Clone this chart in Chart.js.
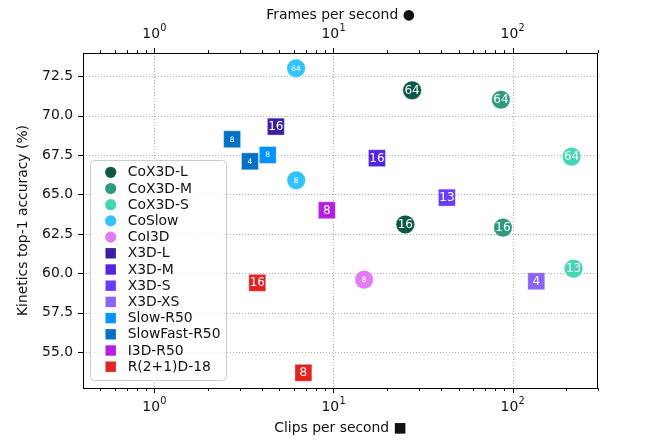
<!DOCTYPE html>
<html>
<head>
<meta charset="utf-8">
<script src="https://cdn.jsdelivr.net/npm/chart.js@4.4.1/dist/chart.umd.min.js"></script>
<style>
  html, body { margin: 0; padding: 0; background: #fff; }
  #wrap { width: 664px; height: 443px; }
</style>
</head>
<body>
<div id="wrap"><canvas id="c" width="664" height="443"></canvas></div>
<script>
// ---------- data ----------
const models = ['CoX3D-L', 'CoX3D-M', 'CoX3D-S', 'CoSlow', 'CoI3D', 'X3D-L', 'X3D-M', 'X3D-S', 'X3D-XS', 'Slow-R50', 'SlowFast-R50', 'I3D-R50', 'R(2+1)D-18'];
// frames per second (continual models, circles) or clips per second (clip models, squares)
const speed = [
  [27.5, 25.2],
  [86.1, 88.4],
  [213.6, 219],
  [6.19, 6.2],
  [14.85],
  [4.77],
  [17.5],
  [43.0],
  [135.7],
  [4.30],
  [2.72, 3.42],
  [9.19],
  [3.76, 6.80]
];
const accuracy = [
  [71.6, 63.1],
  [71.0, 62.9],
  [67.4, 60.3],
  [73.0, 65.9],
  [59.6],
  [69.3],
  [67.3],
  [64.8],
  [59.5],
  [67.5],
  [68.5, 67.1],
  [64.0],
  [59.4, 53.7]
];
const clipLabels = [
  ['64', '16'],
  ['64', '16'],
  ['64', '13'],
  ['64', '8'],
  ['8'],
  ['16'],
  ['16'],
  ['13'],
  ['4'],
  ['8'],
  ['8', '4'],
  ['8'],
  ['16', '8']
];
const xTickValues = [0.5, 0.6, 0.7, 0.8, 0.9, 1, 2, 3, 4, 5, 6, 7, 8, 9, 10, 20, 30, 40, 50, 60, 70, 80, 90, 100, 200, 300];
const xMajorExponents = { 1: '0', 10: '1', 100: '2' };
const yTickValues = [55.0, 57.5, 60.0, 62.5, 65.0, 67.5, 70.0, 72.5];
const xLimits = [0.4, 300];
const yLimits = [52.735, 73.965];

// ---------- styles ----------
const colors = ['#0b5946', '#2f9a80', '#45d6b5', '#33c3ff', '#e27cf3', '#3d1fa3', '#5424e0', '#6a3cfb', '#8a63f8', '#0594ff', '#0571c4', '#b51ee0', '#e32222'];
const isCircle = [true, true, true, true, true, false, false, false, false, false, false, false, false];
const smallText = [false, false, false, true, true, false, false, false, false, true, true, false, false];
const FONT = "'DejaVu Sans', sans-serif";
const TEXT = '#111';

const datasets = models.map((m, i) => ({
  label: m,
  xAxisID: 'x',
  yAxisID: 'y',
  data: speed[i].map((v, j) => ({ x: v, y: accuracy[i][j] })),
  backgroundColor: colors[i],
  borderColor: 'rgba(255,255,255,0.45)',
  borderWidth: 0.8,
  pointStyle: isCircle[i] ? 'circle' : 'rect',
  pointRadius: isCircle[i] ? 9.3 : 12,
  pointHoverRadius: isCircle[i] ? 9.3 : 12
}));

function setTicks(values) {
  return function (scale) {
    scale.ticks = values.map(v => ({ value: v, major: xMajorExponents[v] !== undefined }));
  };
}

const gridPlugin = {
  id: 'dottedGrid',
  beforeDatasetsDraw(chart) {
    const ctx = chart.ctx;
    const a = chart.chartArea;
    ctx.save();
    ctx.beginPath();
    ctx.rect(a.left, a.top, a.right - a.left, a.bottom - a.top);
    ctx.clip();
    ctx.strokeStyle = '#b0b0b0';
    ctx.lineWidth = 1;
    ctx.setLineDash([1, 2]);
    const xs = chart.scales.x, ys = chart.scales.y;
    Object.keys(xMajorExponents).forEach(k => {
      const px = Math.round(xs.getPixelForValue(Number(k))) + 0.5;
      ctx.beginPath(); ctx.moveTo(px, a.top); ctx.lineTo(px, a.bottom); ctx.stroke();
    });
    yTickValues.forEach(v => {
      const py = Math.round(ys.getPixelForValue(v)) + 0.5;
      ctx.beginPath(); ctx.moveTo(a.left, py); ctx.lineTo(a.right, py); ctx.stroke();
    });
    ctx.restore();
  }
};

function drawPowerLabel(ctx, x, digitCenterY, exp) {
  const base = '10';
  ctx.font = '13.9px ' + FONT;
  const wb = ctx.measureText(base).width;
  ctx.font = '9.7px ' + FONT;
  const we = ctx.measureText(exp).width;
  const x0 = x - (wb + we) / 2;
  ctx.textAlign = 'left';
  ctx.textBaseline = 'alphabetic';
  ctx.font = '13.9px ' + FONT;
  ctx.fillText(base, x0, digitCenterY + 5.07);
  ctx.font = '9.7px ' + FONT;
  ctx.fillText(exp, x0 + wb + 0.3, digitCenterY - 2.16);
}

const framePlugin = {
  id: 'frameTicks',
  afterDatasetsDraw(chart) {
    const ctx = chart.ctx;
    const a = chart.chartArea;
    ctx.save();
    ctx.strokeStyle = '#000';
    ctx.lineWidth = 1;
    const xs = chart.scales.x;
    xTickValues.forEach(v => {
      const px = Math.round(xs.getPixelForValue(v)) + 0.5;
      const len = xMajorExponents[v] !== undefined ? 5 : 2.8;
      ctx.beginPath();
      ctx.moveTo(px, a.bottom); ctx.lineTo(px, a.bottom + len);
      ctx.moveTo(px, a.top); ctx.lineTo(px, a.top - len);
      ctx.stroke();
    });
    const ys = chart.scales.y;
    yTickValues.forEach(v => {
      const py = Math.round(ys.getPixelForValue(v)) + 0.5;
      ctx.beginPath();
      ctx.moveTo(a.left, py); ctx.lineTo(a.left - 5, py);
      ctx.stroke();
    });
    ctx.strokeRect(Math.round(a.left) + 0.5, Math.round(a.top) + 0.5, Math.round(a.right - a.left) - 1, Math.round(a.bottom - a.top));
    // power-of-ten tick labels (bottom and top)
    ctx.fillStyle = TEXT;
    Object.keys(xMajorExponents).forEach(k => {
      const px = xs.getPixelForValue(Number(k));
      drawPowerLabel(ctx, px, a.bottom + 18, xMajorExponents[k]);
      drawPowerLabel(ctx, px, a.top - 20, xMajorExponents[k]);
    });
    ctx.restore();

    // labels inside markers
    ctx.save();
    ctx.fillStyle = '#fff';
    ctx.textAlign = 'center';
    ctx.textBaseline = 'middle';
    chart.data.datasets.forEach((ds, i) => {
      const meta = chart.getDatasetMeta(i);
      ctx.font = (smallText[i] ? '7.5px ' : '12px ') + FONT;
      meta.data.forEach((pt, j) => {
        ctx.fillText(clipLabels[i][j], pt.x, pt.y + 0.5);
      });
    });
    ctx.restore();

    // legend
    const lx = 90.5, ly = 160.5, lw = 136, lh = 220, r = 4;
    ctx.save();
    ctx.fillStyle = 'rgba(255,255,255,0.8)';
    ctx.strokeStyle = '#cccccc';
    ctx.lineWidth = 1;
    ctx.beginPath();
    ctx.moveTo(lx + r, ly);
    ctx.lineTo(lx + lw - r, ly); ctx.arcTo(lx + lw, ly, lx + lw, ly + r, r);
    ctx.lineTo(lx + lw, ly + lh - r); ctx.arcTo(lx + lw, ly + lh, lx + lw - r, ly + lh, r);
    ctx.lineTo(lx + r, ly + lh); ctx.arcTo(lx, ly + lh, lx, ly + lh - r, r);
    ctx.lineTo(lx, ly + r); ctx.arcTo(lx, ly, lx + r, ly, r);
    ctx.closePath();
    ctx.fill(); ctx.stroke();
    ctx.font = '13.9px ' + FONT;
    ctx.textAlign = 'left';
    ctx.textBaseline = 'middle';
    models.forEach((m, i) => {
      const cy = 172.3 + i * 16.2;
      ctx.fillStyle = colors[i];
      if (isCircle[i]) {
        ctx.beginPath(); ctx.arc(110.7, cy, 5.6, 0, Math.PI * 2); ctx.fill();
      } else {
        ctx.fillRect(110.7 - 5.2, cy - 5.2, 10.4, 10.4);
      }
      ctx.fillStyle = TEXT;
      ctx.fillText(m, 127.7, cy + 0.5);
    });
    ctx.restore();
  }
};

new Chart(document.getElementById('c'), {
  type: 'scatter',
  data: { datasets },
  options: {
    responsive: false,
    devicePixelRatio: 1,
    animation: false,
    events: [],
    layout: { padding: { left: 0, right: 66, top: 0, bottom: 0 } },
    plugins: { legend: { display: false }, tooltip: { enabled: false } },
    scales: {
      x: {
        type: 'logarithmic',
        position: 'bottom',
        min: xLimits[0], max: xLimits[1],
        afterBuildTicks: setTicks(xTickValues),
        afterFit(s) { s.height = 55; },
        grid: { display: false, drawTicks: false },
        border: { display: false },
        ticks: {
          autoSkip: false, maxRotation: 0, minRotation: 0, padding: 9,
          color: TEXT, font: { family: FONT, size: 13.9 },
          callback: () => ''
        },
        title: { display: true, text: 'Clips per second ■', color: TEXT, font: { family: FONT, size: 13.9 }, padding: { top: 0, bottom: 6 } }
      },
      x2: {
        type: 'logarithmic',
        axis: 'x',
        position: 'top',
        min: xLimits[0], max: xLimits[1],
        afterBuildTicks: setTicks(xTickValues),
        afterFit(s) { s.height = 53; },
        grid: { display: false, drawOnChartArea: false, drawTicks: false },
        border: { display: false },
        ticks: {
          autoSkip: false, maxRotation: 0, minRotation: 0, padding: 10,
          color: TEXT, font: { family: FONT, size: 13.9 },
          callback: () => ''
        },
        title: { display: true, text: 'Frames per second ●', color: TEXT, font: { family: FONT, size: 13.9 }, padding: { top: 7.5, bottom: 0 } }
      },
      y: {
        type: 'linear',
        position: 'left',
        min: yLimits[0], max: yLimits[1],
        afterBuildTicks(scale) { scale.ticks = yTickValues.map(v => ({ value: v })); },
        afterFit(s) { s.width = 83; },
        grid: { display: false, drawTicks: false },
        border: { display: false },
        ticks: {
          padding: 10, color: TEXT, font: { family: FONT, size: 13.9 },
          callback: v => Number(v).toFixed(1)
        },
        title: { display: true, text: 'Kinetics top-1 accuracy (%)', color: TEXT, font: { family: FONT, size: 13.9 }, padding: { top: 15.5, bottom: 0 } }
      }
    }
  },
  plugins: [gridPlugin, framePlugin]
});
</script>
</body>
</html>
